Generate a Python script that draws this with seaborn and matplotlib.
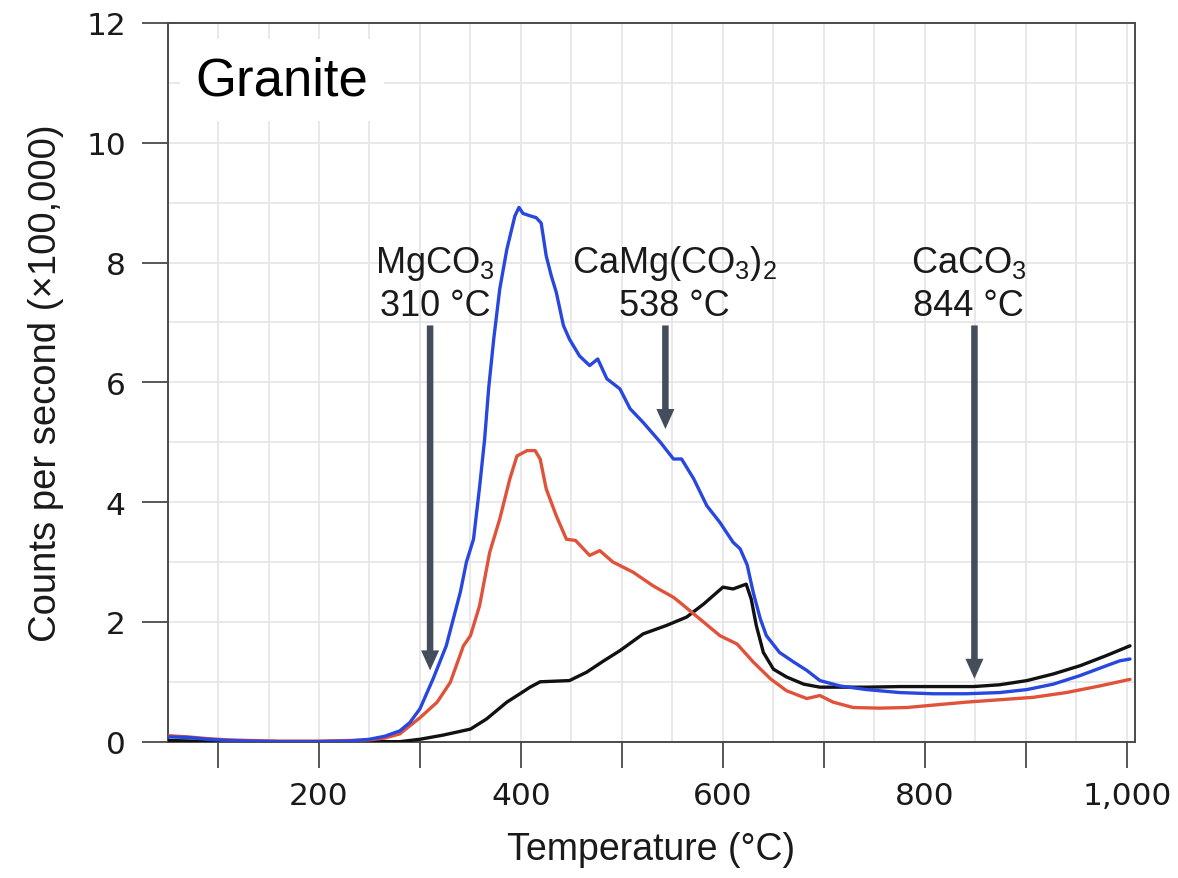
import numpy as np
import pandas as pd
import matplotlib
matplotlib.use("Agg")
import matplotlib.pyplot as plt
from matplotlib.ticker import MultipleLocator, FuncFormatter
import seaborn as sns

# ---------------- data ----------------
blue_T = [50, 70, 90, 110, 130, 160, 200, 230, 250, 265, 280, 290, 300, 313, 326, 340, 346, 353,
          359, 364, 368, 373, 379, 386, 394, 398, 402, 409, 415, 420, 425, 430, 435, 442, 448,
          458, 468, 476, 485, 498, 508, 521, 538, 551, 559, 571, 584, 597, 610, 617, 624, 630,
          637, 643, 656, 670, 683, 696, 716, 742, 775, 808, 841, 874, 901, 927, 953, 980, 993, 1003]
blue_v = [0.08, 0.07, 0.04, 0.02, 0.01, 0.0, 0.0, 0.01, 0.04, 0.09, 0.18, 0.32, 0.55, 1.05, 1.6,
          2.5, 3.0, 3.38, 4.25, 5.05, 5.9, 6.72, 7.56, 8.22, 8.78, 8.92, 8.82, 8.78, 8.75, 8.66,
          8.11, 7.78, 7.5, 6.95, 6.72, 6.44, 6.28, 6.39, 6.06, 5.89, 5.56, 5.33, 5.0, 4.72, 4.72,
          4.39, 3.94, 3.66, 3.33, 3.22, 2.95, 2.49, 2.05, 1.77, 1.49, 1.33, 1.19, 1.02, 0.93,
          0.87, 0.82, 0.80, 0.80, 0.82, 0.87, 0.96, 1.10, 1.27, 1.35, 1.38]

black_T = [50, 100, 280, 300, 323, 350, 366, 386, 399, 409, 419, 448, 465, 482, 498, 521, 544,
           564, 581, 600, 610, 623, 628, 633, 640, 650, 663, 680, 696, 742, 775, 808, 848, 874,
           901, 927, 954, 980, 1003]
black_v = [0.02, 0.0, 0.0, 0.04, 0.11, 0.21, 0.38, 0.66, 0.80, 0.91, 1.0, 1.02, 1.16, 1.35, 1.52,
           1.80, 1.94, 2.08, 2.30, 2.58, 2.55, 2.63, 2.38, 1.94, 1.49, 1.21, 1.08, 0.96, 0.91,
           0.91, 0.92, 0.92, 0.92, 0.95, 1.02, 1.13, 1.27, 1.44, 1.60]

red_T = [50, 70, 90, 110, 130, 160, 200, 230, 250, 265, 280, 300, 317, 330, 343, 350, 359, 369,
         379, 389, 396, 406, 414, 419, 425, 435, 445, 454, 468, 478, 491, 511, 531, 551, 557,
         577, 597, 614, 630, 647, 663, 683, 696, 709, 729, 755, 782, 808, 841, 874, 907, 940,
         973, 1003]
red_v = [0.1, 0.08, 0.05, 0.03, 0.02, 0.01, 0.01, 0.02, 0.03, 0.06, 0.13, 0.40, 0.66, 0.99, 1.60,
         1.77, 2.27, 3.16, 3.72, 4.39, 4.77, 4.86, 4.86, 4.72, 4.22, 3.77, 3.38, 3.36, 3.11,
         3.19, 3.0, 2.83, 2.60, 2.41, 2.33, 2.05, 1.77, 1.63, 1.33, 1.05, 0.85, 0.72, 0.77,
         0.66, 0.57, 0.56, 0.57, 0.61, 0.66, 0.70, 0.74, 0.82, 0.93, 1.04]

series_colors = {"black": "#111111", "red": "#e0523a", "blue": "#2747e0"}

marker_names = ["MgCO$_3$", "CaMg(CO$_3$)$_2$", "CaCO$_3$"]
marker_temps = ["310 °C", "538 °C", "844 °C"]
arrow_x = [310, 543, 849]
arrow_tip = [1.19, 5.22, 1.05]
label_x = [315, 552, 843]

panel_title = "Granite"
x_label = "Temperature (°C)"
y_label = "Counts per second (×100,000)"

# ---------------- figure ----------------
sns.set_style("white")
plt.rcParams["font.family"] = ["DejaVu Sans"]
plt.rcParams["mathtext.default"] = "regular"

df = pd.concat([
    pd.DataFrame({"T": black_T, "cps": black_v, "series": "black"}),
    pd.DataFrame({"T": red_T, "cps": red_v, "series": "red"}),
    pd.DataFrame({"T": blue_T, "cps": blue_v, "series": "blue"}),
], ignore_index=True)

fig = plt.figure(figsize=(11.78, 8.79), dpi=100)
ax = fig.add_axes([0.1422, 0.1551, 0.8213, 0.8176])

sns.lineplot(data=df, x="T", y="cps", hue="series", hue_order=["black", "red", "blue"],
             palette=series_colors, estimator=None, sort=False, legend=False,
             linewidth=2.4, ax=ax, zorder=3)
for ln in ax.get_lines():
    ln.set_solid_capstyle("round")
    ln.set_solid_joinstyle("round")

ax.set_xlim(50, 1008)
ax.set_ylim(0, 12)

ax.xaxis.set_major_locator(MultipleLocator(100))
ax.xaxis.set_minor_locator(MultipleLocator(50))
ax.xaxis.set_major_formatter(FuncFormatter(lambda v, p: f"{int(round(v)):,}" if round(v) % 200 == 0 else ""))
ax.yaxis.set_major_locator(MultipleLocator(2))
ax.yaxis.set_minor_locator(MultipleLocator(1))
ax.yaxis.set_major_formatter(FuncFormatter(lambda v, p: f"{int(round(v))}"))

spine_c = "#4a4a4a"
ax.tick_params(axis="both", which="major", direction="out", length=19, width=1.3,
               color=spine_c, labelsize=22.5, labelcolor="#1a1a1a",
               bottom=True, left=True, top=False, right=False)
ax.tick_params(axis="x", which="major", pad=9)
ax.tick_params(axis="y", which="major", pad=11)
ax.tick_params(axis="both", which="minor", length=0)
for s in ax.spines.values():
    s.set_visible(True)
    s.set_color(spine_c)
    s.set_linewidth(1.4)

ax.set_axisbelow(True)
ax.grid(True, which="both", color="#e6e6e6", linewidth=1.3)

ax.set_xlabel(x_label, fontsize=27, family="Liberation Sans", color="#1a1a1a")
ax.set_ylabel(y_label, fontsize=27.5, family="Liberation Sans", color="#1a1a1a")
ax.xaxis.set_label_coords(0.5, -0.124)
ax.yaxis.set_label_coords(-0.107, 0.5)

ax.text(78, 10.81, panel_title, fontsize=38, family="Liberation Sans", va="baseline", ha="left",
        color="black", zorder=4,
        bbox=dict(boxstyle="square,pad=0.3", fc="white", ec="none"))

arrow_c = "#434d5c"
for name, temp, ax_x, tip, lx in zip(marker_names, marker_temps, arrow_x, arrow_tip, label_x):
    ax.annotate("", xy=(ax_x, tip), xytext=(ax_x, 6.95),
                arrowprops=dict(arrowstyle="simple,head_length=1.44,head_width=1.3,tail_width=0.47",
                                mutation_scale=10, fc=arrow_c, ec="none", lw=0,
                                shrinkA=0, shrinkB=0), zorder=5)
    ax.text(lx, 7.85, name, fontsize=26, family="Liberation Sans", ha="center", va="baseline",
            color="#1a1a1a", zorder=5)
    ax.text(lx, 7.12, temp, fontsize=26, family="Liberation Sans", ha="center", va="baseline",
            color="#1a1a1a", zorder=5)

fig.savefig("out.png", dpi=100)
